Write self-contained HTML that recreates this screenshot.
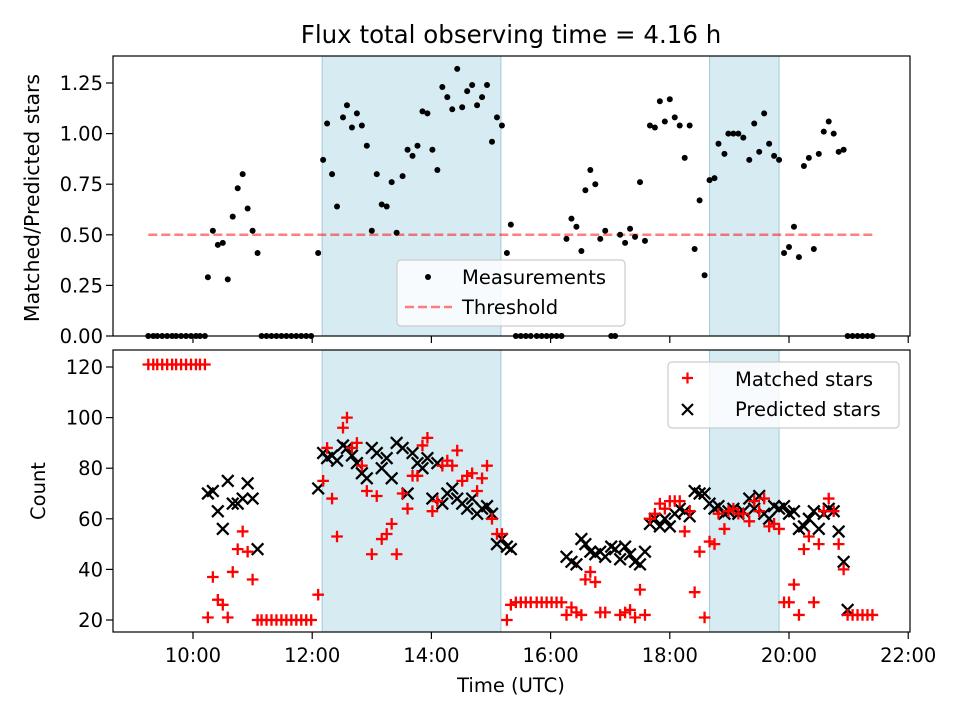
<!DOCTYPE html>
<html><head><meta charset="utf-8">
<style>
html,body{margin:0;padding:0;background:#fff;}
svg{display:block;font-family:"DejaVu Sans","Liberation Sans",sans-serif;}
</style></head>
<body>
<svg id="chart" width="960" height="720" viewBox="0 0 960 720" xmlns="http://www.w3.org/2000/svg">
<rect width="960" height="720" fill="#fff"/>
<g id="g"></g>
</svg>
<script>
// time in minutes since 00:00 UTC
const times = [555,560,564,569,574,579,583,588,593,598,603,607,612,
615,620,625,630,635,640,645,650,655,660,665,
669,674,679,684,689,694,699,704,709,714,719,
726,731,735,740,745,751,755,760,765,770,775,780,785,790,795,800,805,811,816,821,826,831,836,841,846,851,856,861,866,871,876,881,886,891,896,901,906,911,916,920,
925,930,935,940,946,951,956,961,966,971,
976,981,986,991,995,1000,1005,1010,1015,
1021,1025,
1030,1035,1040,1045,1050,1055,1060,1065,1070,1075,1080,1085,1090,1095,1100,1105,1110,1115,1120,1125,1129,1135,1139,1144,1149,1154,1160,1165,1170,1175,1180,1185,1190,1195,1200,1205,1210,1215,1220,1225,1230,1235,1240,1245,1250,1255,
1259,1264,1269,1274,1279,1284];
const ratio = [0,0,0,0,0,0,0,0,0,0,0,0,0,
.29,.52,.45,.46,.28,.59,.73,.80,.63,.52,.41,
0,0,0,0,0,0,0,0,0,0,0,
.41,.87,1.05,.80,.64,1.08,1.14,1.03,1.10,1.04,.94,.52,.80,.65,.64,.76,.51,.79,.92,.89,.94,1.11,1.10,.92,.82,1.23,1.18,1.12,1.32,1.13,1.21,1.24,1.14,1.18,1.24,.96,1.08,1.04,.41,.55,
0,0,0,0,0,0,0,0,0,0,
.48,.58,.54,.42,.72,.82,.75,.48,.52,
0,0,
.50,.46,.53,.49,.76,.47,1.04,1.03,1.16,1.06,1.17,1.08,1.04,.88,1.04,.43,.67,.30,.77,.78,.95,.90,1.00,1.00,1.00,.98,.87,1.05,.91,1.10,.95,.89,.87,.41,.44,.54,.39,.84,.88,.43,.90,1.01,1.06,1.00,.91,.92,
0,0,0,0,0,0];
const matched = [121,121,121,121,121,121,121,121,121,121,121,121,121,
21,37,28,26,21,39,48,55,47,36,20,
20,20,20,20,20,20,20,20,20,20,20,
30,75,88,68,53,96,100,88,90,81,71,46,69,52,54,58,46,70,64,77,77,89,92,63,67,81,83,81,87,75,77,78,71,76,81,60,54,54,20,26,
27,27,27,27,27,27,27,27,27,27,
22,25,23,22,36,39,35,23,23,
null,null,
22,23,24,21,32,22,60,62,66,64,67,67,67,55,63,31,47,21,51,50,62,56,63,64,62,62,59,67,63,68,57,58,56,27,27,34,22,48,53,27,50,63,68,63,50,40,
22,22,22,22,22,22];
const predicted = [null,null,null,null,null,null,null,null,null,null,null,null,null,
70,71,63,56,75,66,66,68,74,68,48,
null,null,null,null,null,null,null,null,null,null,null,
72,86,84,85,83,89,88,85,82,78,76,88,86,80,84,76,90,88,70,86,82,80,84,68,82,66,70,72,68,66,64,68,62,64,65,62,50,52,49,48,
null,null,null,null,null,null,null,null,null,null,
45,43,42,52,50,47,46,47,45,
49,48,
44,49,46,43,42,47,58,60,57,60,57,62,64,63,61,71,70,70,66,64,65,62,63,64,62,63,68,64,69,62,60,65,64,65,62,63,56,57,60,63,56,62,64,63,55,43,
24,null,null,null,null,null];
const spans = [[730,910],[1120,1190]];
const threshold = 0.5;
const xTicks = [600,720,840,960,1080,1200,1320];
const xTickLabels = ["10:00","12:00","14:00","16:00","18:00","20:00","22:00"];
const topTicks = [0,0.25,0.5,0.75,1.0,1.25];
const topTickLabels = ["0.00","0.25","0.50","0.75","1.00","1.25"];
const botTicks = [20,40,60,80,100,120];

const NS="http://www.w3.org/2000/svg";
const g=document.getElementById('g');
function el(tag,attrs,parent){const e=document.createElementNS(NS,tag);for(const k in attrs)e.setAttribute(k,attrs[k]);(parent||g).appendChild(e);return e;}
const L=113,R=910;
const T1=56,B1=336,T2=350,B2=632;
function xs(m){return 193+(m-600)*119.2/120;}
function y1(v){return 336-v*202.4;}
function y2(v){return 620-(v-20)*2.53;}

[[T1,B1],[T2,B2]].forEach(function(ab,ai){
  spans.forEach(function(s,si){
    const r=el('rect',{x:xs(s[0]),y:ab[0],width:xs(s[1])-xs(s[0]),height:ab[1]-ab[0],fill:'#add8e6','fill-opacity':0.5,stroke:'#9fcbd9','stroke-width':1});
    
    
  });
});

const th=el('line',{x1:xs(times[0]),x2:xs(times[times.length-1]),y1:y1(threshold),y2:y1(threshold),stroke:'#ff0000','stroke-opacity':0.5,'stroke-width':2.5,'stroke-dasharray':'9,4'});



for(let i=0;i<times.length;i++){
  const c=el('circle',{cx:xs(times[i]),cy:y1(ratio[i]),r:3,fill:'#000'});
  
  
}
for(let i=0;i<times.length;i++){
  if(predicted[i]!==null){
    const x=xs(times[i]),y=y2(predicted[i]),d=5.8;
    const p=el('path',{d:`M${x-d},${y-d}L${x+d},${y+d}M${x-d},${y+d}L${x+d},${y-d}`,stroke:'#000','stroke-width':2.3,fill:'none'});
    
    
  }
}
for(let i=0;i<times.length;i++){
  if(matched[i]!==null){
    const x=xs(times[i]),y=y2(matched[i]),d=5.8;
    const p=el('path',{d:`M${x-d},${y}L${x+d},${y}M${x},${y-d}L${x},${y+d}`,stroke:'#ff0000','stroke-width':2.3,fill:'none'});
    
    
  }
}

[[T1,B1,'top-axes-frame'],[T2,B2,'bottom-axes-frame']].forEach(function(a){
  const r=el('rect',{x:L,y:a[0],width:R-L,height:a[1]-a[0],fill:'none',stroke:'#000','stroke-width':1.2});
  
  
});
xTicks.forEach(function(m,i){
  const x=xs(m);
  el('line',{x1:x,x2:x,y1:B1,y2:B1+7,stroke:'#000','stroke-width':1.2});
  el('line',{x1:x,x2:x,y1:B2,y2:B2+7,stroke:'#000','stroke-width':1.2});
  const t=el('text',{x:x,y:662,'text-anchor':'middle','font-size':'19.5px',fill:'#000'});
  t.textContent=xTickLabels[i];
  
  
});
topTicks.forEach(function(v,i){
  const y=y1(v);
  el('line',{x1:L-7,x2:L,y1:y,y2:y,stroke:'#000','stroke-width':1.2});
  const t=el('text',{x:L-10,y:y+7,'text-anchor':'end','font-size':'19.5px',fill:'#000'});
  t.textContent=topTickLabels[i];
  
  
});
botTicks.forEach(function(v){
  const y=y2(v);
  el('line',{x1:L-7,x2:L,y1:y,y2:y,stroke:'#000','stroke-width':1.2});
  const t=el('text',{x:L-10,y:y+7,'text-anchor':'end','font-size':'19.5px',fill:'#000'});
  t.textContent=String(v);
  
  
});
</script>
<svg width="960" height="720" style="position:absolute;left:0;top:0" xmlns="http://www.w3.org/2000/svg" font-family="DejaVu Sans, Liberation Sans, sans-serif">
  <text x="511" y="43" text-anchor="middle" font-size="24.5px">Flux total observing time = 4.16 h</text>
  <text x="511" y="692" text-anchor="middle" font-size="19.5px">Time (UTC)</text>
  <text transform="translate(39,198) rotate(-90)" text-anchor="middle" font-size="20.5px">Matched/Predicted stars</text>
  <text transform="translate(45,491) rotate(-90)" text-anchor="middle" font-size="19.5px">Count</text>
  <g>
    <rect x="397" y="260" width="228" height="66" rx="4" fill="#fff" fill-opacity="0.8" stroke="#ccc" stroke-width="1.2"/>
    <circle cx="428" cy="277" r="3" fill="#000"/>
    <text x="462" y="284" font-size="19.5px">Measurements</text>
    <line x1="405" x2="452" y1="307" y2="307" stroke="#ff0000" stroke-opacity="0.5" stroke-width="2.5" stroke-dasharray="9,4"/>
    <text x="462" y="314" font-size="19.5px">Threshold</text>
  </g>
  <g>
    <rect x="668" y="362" width="231" height="66" rx="4" fill="#fff" fill-opacity="0.8" stroke="#ccc" stroke-width="1.2"/>
    <path d="M682,378L693,378M687.5,372.5L687.5,383.5" stroke="#ff0000" stroke-width="2.2"/>
    <text x="735" y="386" font-size="19.5px">Matched stars</text>
    <path d="M682,404L693,415M682,415L693,404" stroke="#000" stroke-width="2.2"/>
    <text x="735" y="416" font-size="19.5px">Predicted stars</text>
  </g>
</svg>
</body></html>
